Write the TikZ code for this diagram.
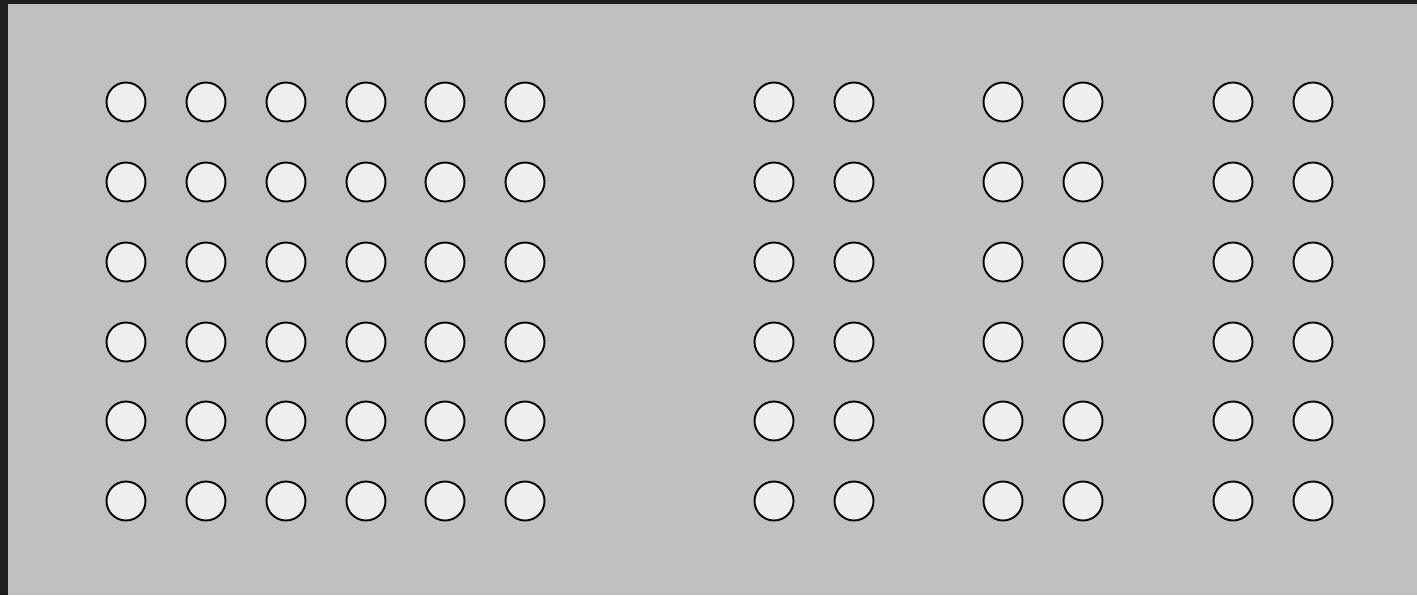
\documentclass[tikz,border=0pt]{standalone}
\definecolor{frame}{HTML}{1E1E22}
\definecolor{bg}{HTML}{C0C0C0}
\definecolor{dotfill}{HTML}{EEEEEE}
\tikzset{dot/.style={circle,draw=black,fill=dotfill,line width=1.9pt,minimum size=39pt,inner sep=0pt}}
\begin{document}
\begin{tikzpicture}[x=1pt,y=-1pt]
\useasboundingbox (0,0) rectangle (1417,595);
\fill[frame] (0,0) rectangle (1417,595);
\fill[bg] (7.5,4) rectangle (1417,595);
\foreach \c/\x in {1/126,2/206,3/286,4/366,5/445,6/525,7/774,8/854,9/1003,10/1083,11/1233,12/1313}{
  \foreach \r/\y in {1/102,2/182,3/262,4/342,5/421,6/501}{
    \node[dot] (d-\r-\c) at (\x,\y) {};
  }
}
\end{tikzpicture}
\end{document}
